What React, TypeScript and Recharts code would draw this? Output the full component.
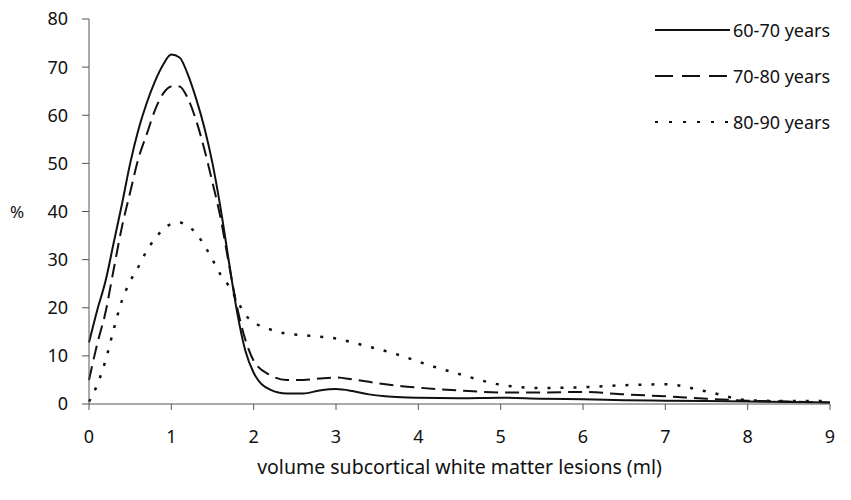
import React from 'react'
import { LineChart, Line, XAxis, YAxis, Label } from 'recharts'

// volume (ml) on the x axis
const volumes = [
  0, 0.1, 0.2, 0.3, 0.4, 0.5, 0.6, 0.7, 0.8, 0.9, 1.0, 1.1, 1.2, 1.3, 1.4, 1.5, 1.6, 1.7, 1.8, 1.9,
  2.0, 2.2, 2.4, 2.6, 2.8, 3.0, 3.2, 3.4, 3.6, 3.8, 4.0, 4.5, 5.0, 5.5, 6.0, 6.5, 7.0, 7.5, 8.0, 8.5, 9.0,
]

const age60to70 = [
  12.8, 19.5, 25.5, 33.5, 41.5, 50, 57, 62.5, 67, 70.5, 72.6, 72, 68.5, 63.5, 57.5, 50, 40.5, 29.5, 19, 11,
  6.5, 3, 2.2, 2.2, 2.8, 3.1, 2.7, 2, 1.6, 1.4, 1.3, 1.2, 1.3, 1.1, 1.0, 0.8, 0.7, 0.6, 0.5, 0.4, 0.3,
]

const age70to80 = [
  5, 12.5, 19, 28, 36.8, 44, 51, 56, 61, 64.5, 66, 66, 63.5, 59, 53, 46, 38.5, 29, 20, 13.3,
  9, 6, 5, 5, 5.3, 5.5, 5.1, 4.6, 4.1, 3.7, 3.4, 2.8, 2.4, 2.4, 2.5, 2.0, 1.6, 1.1, 0.7, 0.5, 0.3,
]

const age80to90 = [
  0.5, 4, 9, 15.5, 21.5, 25.5, 28.5, 31.8, 34.3, 36.3, 37.4, 37.7, 37, 35.5, 33, 30, 26.8, 24.5, 21.5, 18.5,
  17, 15.5, 14.6, 14.3, 14, 13.6, 12.8, 11.9, 11, 10, 8.8, 6.2, 4, 3.3, 3.5, 3.9, 4.1, 2.6, 0.8, 0.6, 0.6,
]

const xTicks = [0, 1, 2, 3, 4, 5, 6, 7, 8, 9]
const yTicks = [0, 10, 20, 30, 40, 50, 60, 70, 80]

const seriesNames = ['60-70 years', '70-80 years', '80-90 years']

const data = volumes.map((v, i) => ({
  volume: v,
  a: age60to70[i],
  b: age70to80[i],
  c: age80to90[i],
}))

const FONT = '"Noto Sans", sans-serif'
const AXIS = '#555'
const INK = '#111'

const legendDash = [undefined, '18 9', '3 11']

function LegendBox() {
  return (
    <div style={{ position: 'absolute', top: 7, left: 652, fontFamily: FONT, fontSize: 18, color: INK }}>
      {seriesNames.map((name, i) => (
        <div key={name} style={{ display: 'flex', alignItems: 'center', height: 46 }}>
          <svg width={80} height={10}>
            <line x1={3} y1={5} x2={78} y2={5} stroke={INK} strokeWidth={2} strokeDasharray={legendDash[i]} />
          </svg>
          <span style={{ marginLeft: 1 }}>{name}</span>
        </div>
      ))}
    </div>
  )
}

export default function App() {
  return (
    <div style={{ position: 'absolute', left: 0, top: 0, width: 851, height: 500, background: '#fff' }}>
      <LineChart width={851} height={500} data={data} margin={{ top: 19, right: 21, bottom: 0, left: 0 }}>
        <XAxis
          dataKey="volume"
          type="number"
          domain={[0, 9]}
          ticks={xTicks}
          height={96}
          stroke={AXIS}
          tickSize={6}
          tickMargin={20}
          tick={{ fill: INK, fontSize: 18, fontFamily: FONT }}
        >
          <Label
            value="volume subcortical white matter lesions (ml)"
            position="insideBottom"
            offset={26}
            fill={INK}
            fontSize={19.5}
            fontFamily={FONT}
          />
        </XAxis>
        <YAxis
          type="number"
          domain={[0, 80]}
          ticks={yTicks}
          width={89}
          stroke={AXIS}
          tickSize={7}
          tickMargin={14}
          tick={{ fill: INK, fontSize: 18, fontFamily: FONT }}
        >
          <Label value="%" position="insideLeft" offset={10} fill={INK} fontSize={17} fontFamily={FONT} />
        </YAxis>
        <Line type="monotone" dataKey="a" name={seriesNames[0]} stroke={INK} strokeWidth={2} dot={false} isAnimationActive={false} />
        <Line
          type="monotone"
          dataKey="b"
          name={seriesNames[1]}
          stroke={INK}
          strokeWidth={2}
          strokeDasharray="14 7"
          dot={false}
          isAnimationActive={false}
        />
        <Line
          type="monotone"
          dataKey="c"
          name={seriesNames[2]}
          stroke={INK}
          strokeWidth={2.5}
          strokeDasharray="3 10"
          dot={false}
          isAnimationActive={false}
        />
      </LineChart>
      <LegendBox />
    </div>
  )
}
